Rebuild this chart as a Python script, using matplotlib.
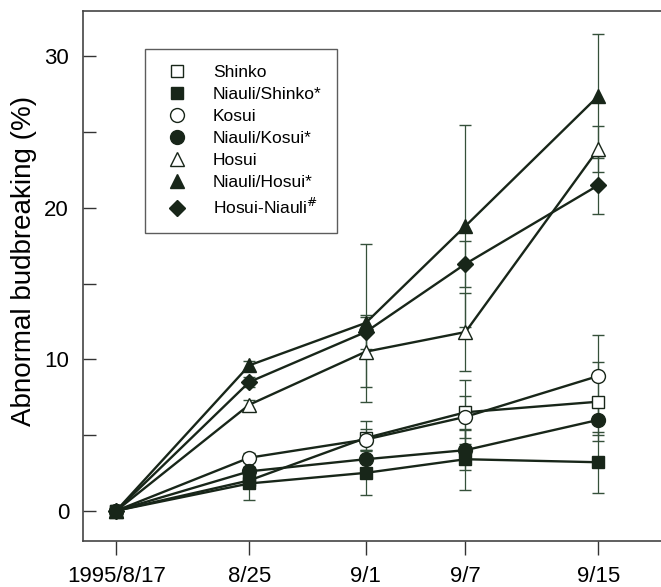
import numpy as np
import matplotlib
matplotlib.use('Agg')
import matplotlib.pyplot as plt
from matplotlib.lines import Line2D

plt.rcParams['font.family'] = ['Liberation Sans', 'DejaVu Sans']

# sampling dates (1995)
dates = np.array(['1995-08-17', '1995-08-25', '1995-09-01', '1995-09-07', '1995-09-15'],
                 dtype='datetime64[D]')
date_labels = ['1995/8/17', '8/25', '9/1', '9/7', '9/15']

# abnormal budbreaking (%) and error
shinko = [0, 2.0, 4.8, 6.5, 7.2]
shinko_err = [0, 0.3, 1.1, 2.1, 2.6]
niauli_shinko = [0, 1.8, 2.5, 3.4, 3.2]
niauli_shinko_err = [0, 1.1, 1.45, 2.0, 2.0]
kosui = [0, 3.5, 4.7, 6.2, 8.9]
kosui_err = [0, 0.3, 0.7, 1.4, 2.7]
niauli_kosui = [0, 2.6, 3.4, 4.0, 6.0]
niauli_kosui_err = [0, 0.3, 0.6, 1.3, 1.0]
hosui = [0, 7.0, 10.5, 11.8, 23.9]
hosui_err = [0, 0.3, 2.3, 2.6, 1.5]
niauli_hosui = [0, 9.6, 12.4, 18.8, 27.4]
niauli_hosui_err = [0, 0.3, 5.2, 6.7, 4.1]
hosui_niauli = [0, 8.5, 11.8, 16.3, 21.5]
hosui_niauli_err = [0, 0.3, 1.1, 1.5, 1.9]

labels = ['Shinko', 'Niauli/Shinko*', 'Kosui', 'Niauli/Kosui*', 'Hosui',
          'Niauli/Hosui*', 'Hosui-Niauli$^{\\#}$']

line_col = '#182619'
err_col = '#35503a'

series = [
    (shinko, shinko_err, 's', 'white', 8.5),
    (niauli_shinko, niauli_shinko_err, 's', line_col, 8.5),
    (kosui, kosui_err, 'o', 'white', 10),
    (niauli_kosui, niauli_kosui_err, 'o', line_col, 10),
    (hosui, hosui_err, '^', 'white', 10),
    (niauli_hosui, niauli_hosui_err, '^', line_col, 10),
    (hosui_niauli, hosui_niauli_err, 'D', line_col, 8.5),
]

fig = plt.figure(figsize=(6.61, 5.87), dpi=100)
ax = fig.add_axes([83 / 661, 46 / 587, 582 / 661, 530 / 587])

handles = []
for (vals, err, m, fc, ms), lab in zip(series, labels):
    ax.errorbar(dates, vals, yerr=err, color=line_col, lw=1.7, marker=m, ms=ms,
                mfc=fc, mec=line_col, mew=1, ecolor=err_col, elinewidth=0.9,
                capsize=4.5, capthick=0.9)
    handles.append(Line2D([], [], ls='none', marker=m, ms=ms, mfc=fc,
                          mec=line_col, mew=1, label=lab))

ax.set_xlim(dates[0] - np.timedelta64(2, 'D'), dates[0] + np.timedelta64(33, 'D'))
ax.set_ylim(-2, 33)

ax.set_xticks(dates)
ax.set_xticklabels(date_labels)
ax.set_yticks(np.arange(0, 35, 5))
ax.set_yticklabels(['0', '', '10', '', '20', '', '30'])
ax.tick_params(axis='y', direction='in', length=9, width=1, pad=10,
               labelsize=16, color='#333333')
ax.tick_params(axis='x', direction='out', length=10, width=1, pad=8,
               labelsize=16, color='#333333')
for s in ax.spines.values():
    s.set_linewidth(1.2)
    s.set_color('#444444')

ax.set_ylabel('Abnormal budbreaking (%)', fontsize=20)
ax.yaxis.set_label_coords(-0.079, 0.528)

leg = ax.legend(handles=handles, loc='upper left',
                bbox_to_anchor=(62 / 582, (541 - 49) / 530), borderaxespad=0,
                fontsize=12.5, frameon=True, fancybox=False, edgecolor='#333333',
                borderpad=0.9, labelspacing=0.4, handlelength=1.9,
                handletextpad=1.1)
leg.get_frame().set_linewidth(1)

plt.savefig('out.png', dpi=100)
